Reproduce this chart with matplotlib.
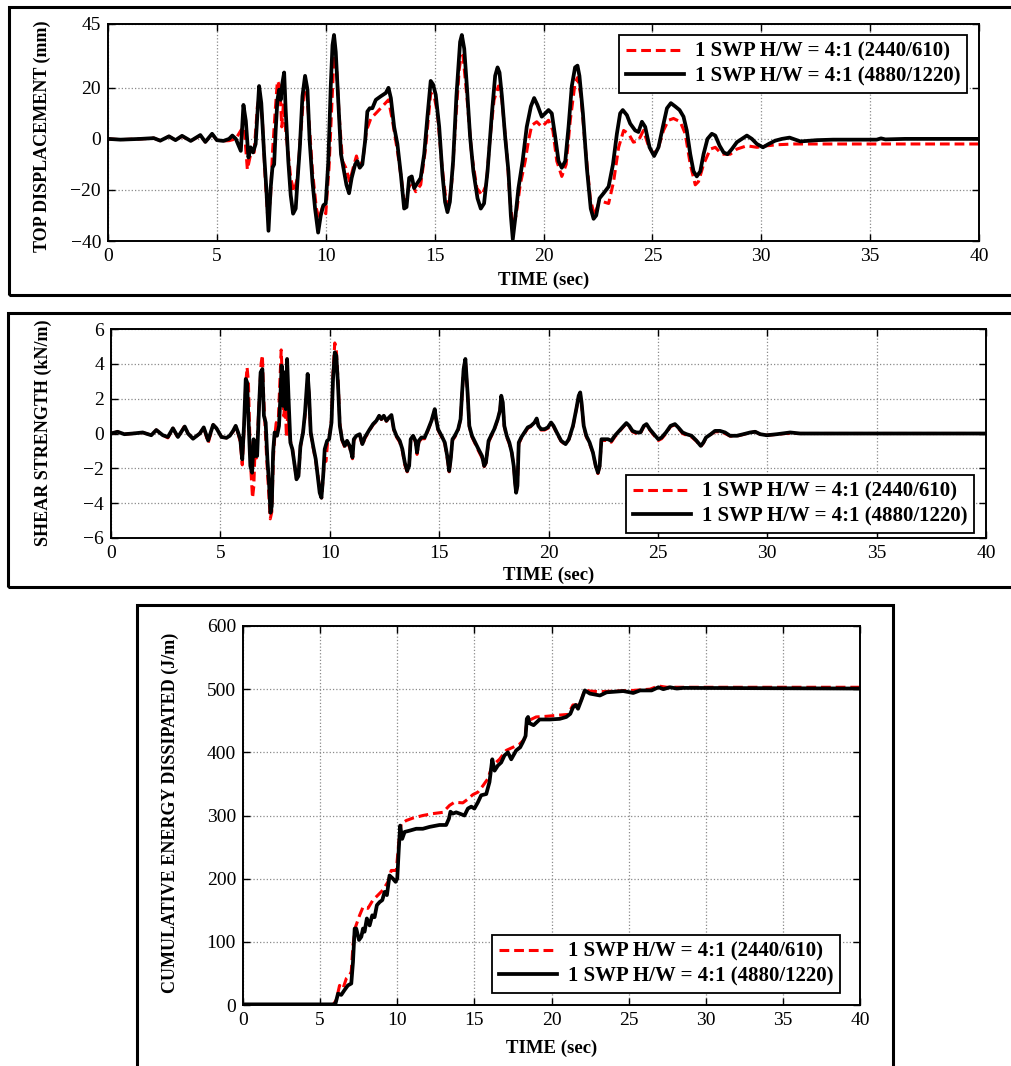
import matplotlib
matplotlib.use("Agg")
import matplotlib.pyplot as plt
from matplotlib.patches import Rectangle

# ---------------- DATA ----------------
# Panel 1: top displacement (mm)
disp_t_a = [0, 0.57, 1.5, 2.1, 2.4, 2.8, 3.1, 3.4, 3.8, 4.24, 4.47, 4.78, 5.0, 5.3, 5.56, 5.87,
            6.10, 6.25, 6.40, 6.55, 6.71, 6.86, 6.97, 7.09, 7.21, 7.34, 7.46, 7.55, 7.67, 7.78,
            7.89, 7.98, 8.06, 8.16, 8.28, 8.39, 8.54, 8.70, 8.85, 9.0, 9.11, 9.23, 9.39, 9.57,
            9.69, 9.85, 10.0, 10.15, 10.28, 10.38, 10.49, 10.61, 10.77, 10.92, 11.10, 11.26,
            11.41, 11.56, 11.72, 11.87, 12.07, 12.30, 12.60, 12.88, 13.06, 13.29, 13.49, 13.64,
            13.80, 13.95, 14.13, 14.36, 14.59, 14.82, 14.98, 15.13, 15.33, 15.51, 15.64, 15.79,
            15.97, 16.13, 16.2, 16.3, 16.48, 16.7, 16.94, 17.17, 17.37, 17.55, 17.73, 17.93,
            18.09, 18.32, 18.47, 18.59, 18.74, 18.93, 19.16, 19.31, 19.46, 19.69, 19.92, 20.08,
            20.23, 20.43, 20.61, 20.84, 21.04, 21.23, 21.45, 21.56, 21.72, 21.92, 22.15, 22.33,
            22.53, 22.76, 22.99, 23.22, 23.45, 23.68, 23.91, 24.13, 24.36, 24.59, 24.82, 25.05,
            25.28, 25.51, 25.74, 25.97, 26.28, 26.51, 26.74, 26.97, 27.12, 27.35, 27.66, 27.89,
            28.19, 28.58, 28.88, 29.34, 29.80, 30.26, 30.72, 31.5, 35.0, 40.0]
disp_v_a = [0, -0.3, 0, 0.3, -0.7, 1.0, -0.5, 1.0, -0.8, 1.3, -1.2, 1.8, -0.5, -0.8, -0.7, 0,
            3.3, 4.7, -12, -6, -5.3, 12.7, 17.3, 7.3, -14, -31.3, -23.3, -6, 10, 22.7,
            20.7, 4.7, 14, 3.3, -6, -15.3, -20.7, -15.3, 2, 18.7, 19.3, 7.3, -12.7, -27.3,
            -31.3, -26.7, -29.3, -11.3, 14, 32.7, 28.7, 10, -8.7, -11.3, -16.7, -11.3,
            -6.7, -11.3, -7.3, 3.3, 8, 10, 12.7, 15.3, 7.3, -4.7, -16.7, -27.3,
            -19.3, -16.7, -20.7, -18, -3.3, 18, 16.7, 10, -10, -23.3, -27.3, -16.7,
            7.3, 27.3, 31.3, 32.7, 16.7, -6, -19.3, -22, -18, 0.7, 15.3, 20.7,
            15.3, -6, -24.7, -34, -30, -18, -8.7, -0.7, 5.3, 6.7, 4.7, 6,
            7.3, 3.3, -8.7, -14.7, -10, 7.3, 22, 24, 16.7, -3.3, -23.3, -30,
            -25.3, -24.7, -25.3, -16.7, -3.3, 3.3, 2, -1.3, -0.7, 3.3, -2.7, -6,
            -3.3, 3.3, 7.3, 8, 6.7, 2, -10, -18, -16.7, -10, -4, -3.3,
            -6, -6, -4, -2.7, -3.3, -2.7, -2.3, -2, -2, -2]

disp_t_b = [0, 0.57, 1.5, 2.1, 2.4, 2.8, 3.1, 3.4, 3.8, 4.24, 4.47, 4.78, 5.0, 5.3, 5.56, 5.71,
            5.87, 6.10, 6.22, 6.33, 6.45, 6.55, 6.66, 6.78, 6.94, 7.04, 7.17, 7.27, 7.37, 7.47,
            7.55, 7.63, 7.70, 7.78, 7.86, 7.93, 8.01, 8.09, 8.16, 8.28, 8.39, 8.50, 8.62, 8.70,
            8.81, 8.93, 9.05, 9.16, 9.26, 9.39, 9.51, 9.65, 9.77, 9.89, 10.0, 10.12, 10.23,
            10.31, 10.38, 10.46, 10.58, 10.70, 10.84, 10.95, 11.07, 11.19, 11.35, 11.45, 11.56,
            11.68, 11.81, 11.91, 12.02, 12.14, 12.30, 12.53, 12.76, 12.88, 12.99, 13.14, 13.29,
            13.45, 13.60, 13.71, 13.83, 13.95, 14.06, 14.21, 14.36, 14.52, 14.67, 14.82, 14.93,
            15.05, 15.21, 15.36, 15.48, 15.59, 15.70, 15.85, 16.0, 16.13, 16.17, 16.25, 16.36,
            16.48, 16.63, 16.78, 16.97, 17.12, 17.27, 17.43, 17.63, 17.78, 17.89, 17.98, 18.09,
            18.24, 18.39, 18.50, 18.59, 18.70, 18.85, 19.04, 19.23, 19.42, 19.57, 19.72, 19.92,
            20.08, 20.23, 20.38, 20.54, 20.69, 20.84, 21.0, 21.15, 21.30, 21.45, 21.56, 21.65,
            21.81, 21.99, 22.17, 22.30, 22.42, 22.57, 22.76, 22.99, 23.19, 23.37, 23.52, 23.64,
            23.83, 23.98, 24.21, 24.36, 24.52, 24.67, 24.87, 25.08, 25.28, 25.48, 25.67, 25.85,
            26.05, 26.25, 26.43, 26.58, 26.74, 26.89, 27.04, 27.20, 27.35, 27.53, 27.73, 27.89,
            28.09, 28.27, 28.45, 28.65, 28.88, 29.11, 29.34, 29.57, 29.80, 30.08, 30.34, 30.64,
            30.95, 31.3, 31.8, 32.55, 33.3, 35.3, 35.5, 35.7, 36.6, 40.0]
disp_v_b = [0, -0.3, 0, 0.3, -0.7, 1.0, -0.5, 1.2, -0.8, 1.5, -1.2, 2.0, -0.5, -0.8, 0, 1.3,
            0, -4.7, 13.3, 7, -7.3, -3.3, -5.3, -2, 20.7, 14, -6, -19.3, -36, -19.3,
            -11.3, -10, 3.3, 15.3, 19.3, 15.3, 22, 26, 11.3, -8.7, -22, -29.3, -27.3, -16.7,
            -3.3, 16.7, 24.7, 19.3, -0.7, -16.7, -27.3, -36.7, -30, -26, -25.3, -8.7, 20.7,
            36.7, 40.7, 34, 14, -6, -12.7, -18, -21.3, -15.3, -10, -8.7, -11.3,
            -10, -0.7, 10.7, 12, 12, 15.3, 16.7, 18, 20, 16, 4.7, -2,
            -14, -27.3, -26.7, -15.3, -14.7, -19.3, -17.3, -15.3, -6, 8.7, 22.7, 21.3,
            17.3, 4.7, -14, -24.7, -28.7, -24.7, -8.7, 16.7, 32.7, 38, 40.7, 35.3,
            20.7, 0.7, -12.7, -23.3, -27.3, -25.3, -12.7, 10, 24.7, 28, 26, 16.7,
            0.7, -12.7, -30, -39.3, -31.3, -19.3, -8.7, 4.7, 12.7, 16, 13.3, 8.7,
            10, 11.3, 10, 0.7, -8.7, -11.3, -8.7, 4.7, 20.7, 28, 28.7, 24.7,
            10, -11.3, -27.3, -31.3, -30, -23.3, -21.3, -18.7, -10, 2, 10, 11.3,
            9.3, 6, 3.3, 2.7, 6.7, 4.7, -3.3, -6.7, -3.3, 4.7, 12, 14,
            12.7, 11.3, 8.7, 3.3, -6, -12.7, -14.7, -12.7, -6, 0, 2, 1.3,
            -2.7, -5.3, -6, -4, -1.3, 0, 1.3, 0, -2, -3.3, -2, -0.7,
            0, 0.5, -1.0, -0.5, -0.3, -0.3, 0.2, -0.2, 0, 0]

# Panel 2: shear strength (kN/m)
shear_t_a = [0, 0.3, 0.61, 1.0, 1.45, 1.84, 2.07, 2.37, 2.6, 2.83, 3.06, 3.37, 3.52, 3.75, 4.06,
             4.24, 4.44, 4.67, 4.82, 5.05, 5.28, 5.43, 5.58, 5.70, 5.81, 5.91, 6.0, 6.08, 6.16,
             6.22, 6.28, 6.33, 6.40, 6.47, 6.53, 6.58, 6.65, 6.72, 6.80, 6.86, 6.92, 6.98, 7.05,
             7.12, 7.20, 7.28, 7.35, 7.42, 7.48, 7.55, 7.65, 7.72, 7.78, 7.85, 7.90, 7.96, 8.02,
             8.08, 8.14, 8.20, 8.30, 8.40, 8.48, 8.57, 8.66, 8.78, 8.87, 8.93, 8.99, 9.05, 9.13,
             9.24, 9.36, 9.47, 9.55, 9.63, 9.70, 9.76, 9.83, 9.90, 9.97, 10.08, 10.15, 10.23,
             10.30, 10.38, 10.46, 10.56, 10.69, 10.79, 10.91, 11.04, 11.10, 11.22, 11.37, 11.49,
             11.60, 11.83, 11.98, 12.13, 12.26, 12.36, 12.47, 12.59, 12.71, 12.82, 12.93, 13.05,
             13.20, 13.32, 13.43, 13.54, 13.63, 13.70, 13.81, 13.92, 13.99, 14.07, 14.19, 14.34,
             14.50, 14.65, 14.80, 14.85, 14.95, 15.11, 15.26, 15.37, 15.46, 15.53, 15.61, 15.72,
             15.87, 15.98, 16.05, 16.12, 16.20, 16.30, 16.38, 16.50, 16.65, 16.80, 16.96, 17.06,
             17.14, 17.26, 17.37, 17.52, 17.68, 17.78, 17.84, 17.91, 17.98, 18.09, 18.21, 18.32,
             18.41, 18.47, 18.52, 18.58, 18.64, 18.75, 18.90, 19.05, 19.20, 19.36, 19.46, 19.54,
             19.66, 19.82, 19.97, 20.12, 20.23, 20.38, 20.58, 20.78, 20.93, 21.12, 21.27, 21.38,
             21.45, 21.51, 21.61, 21.73, 21.88, 22.03, 22.16, 22.26, 22.34, 22.42, 22.52, 22.72,
             22.87, 23.03, 23.23, 23.44, 23.56, 23.69, 23.84, 24.02, 24.20, 24.36, 24.48, 24.63,
             24.82, 25.02, 25.17, 25.37, 25.58, 25.78, 25.93, 26.13, 26.31, 26.54, 26.77, 26.96,
             27.08, 27.20, 27.42, 27.61, 27.84, 28.07, 28.30, 28.61, 28.91, 29.22, 29.45, 29.68,
             29.98, 30.44, 30.83, 31.05, 31.5, 40.0]
shear_v_a = [0, 0.1, -0.04, 0, 0.06, -0.1, 0.2, -0.1, -0.25, 0.3, -0.25, 0.45, 0, -0.3, 0,
             0.35, -0.55, 0.5, 0.3, -0.2, -0.25, -0.1, 0.1, 0.4, 0.0, -0.5, -1.8, 0.2, 2.8,
             3.8, 3.0, 0.5, -2.2, -3.7, -3.0, -1.0, -1.5, 0.5, 2.5, 4.0, 4.5, 2.0, 0.3,
             -1.5, -3.2, -4.9, -4.5, -1.5, -0.3, 0.6, 0.8, 3.0, 4.8, 2.5, 1.0, 2.0, -0.2,
             1.2, 0.5, -0.4, -0.9, -1.9, -2.6, -2.4, -0.8, 0.1, 1.0, 2.2, 3.3, 2.2, 0.0,
             -0.8, -1.6, -2.5, -3.3, -3.7, -2.5, -1.5, -1.6, -0.5, -0.3, 0.8, 3.5, 5.2,
             4.8, 3.0, 0.6, -0.4, -0.8, -0.5, -0.8, -1.45, -0.4, -0.2, -0.1, -0.7,
             -0.3, 0.2, 0.5, 0.7, 1.0, 0.8, 1.0, 0.7, 0.9, 1.0, 0.2, -0.2,
             -0.5, -1.0, -1.8, -2.2, -1.9, -0.4, -0.2, -0.5, -1.2, -0.5, -0.3, -0.3,
             0.2, 0.7, 1.35, 0.9, 0.2, -0.2, -0.6, -1.4, -2.2, -1.5, -0.4, -0.2,
             0.2, 0.8, 2.3, 3.7, 4.2, 2.3, 0.4, -0.2, -0.6, -1.0, -1.4, -1.9,
             -1.7, -0.5, -0.2, 0.2, 0.8, 1.3, 2.1, 1.7, 0.4, -0.2, -0.6, -1.1,
             -1.9, -2.8, -3.4, -3.0, -0.6, -0.3, 0.0, 0.3, 0.4, 0.6, 0.8, 0.4,
             0.2, 0.2, 0.3, 0.6, 0.4, 0.0, -0.45, -0.65, -0.35, 0.4, 1.4, 2.1,
             2.3, 1.7, 0.4, -0.2, -0.6, -1.1, -1.9, -2.3, -1.9, -0.4, -0.4, -0.4,
             -0.5, -0.2, 0.1, 0.4, 0.55, 0.4, 0.1, 0.0, 0.0, 0.4, 0.5, 0.2,
             -0.1, -0.4, -0.3, 0.0, 0.4, 0.5, 0.3, 0.0, -0.1, -0.2, -0.45, -0.75,
             -0.55, -0.25, -0.05, 0.1, 0.1, 0.0, -0.15, -0.15, -0.05, 0.05, 0.1, -0.05,
             -0.1, -0.05, 0.0, 0.0, 0.0, 0.0]

shear_t_b = [0, 0.3, 0.61, 1.0, 1.45, 1.84, 2.07, 2.37, 2.6, 2.83, 3.06, 3.37, 3.52, 3.75, 4.06,
             4.24, 4.44, 4.67, 4.82, 5.05, 5.28, 5.43, 5.58, 5.70, 5.81, 5.91, 6.0, 6.08, 6.16,
             6.22, 6.30, 6.37, 6.45, 6.52, 6.6, 6.68, 6.77, 6.84, 6.92, 6.99, 7.07, 7.15, 7.23,
             7.29, 7.35, 7.41, 7.48, 7.59, 7.68, 7.74, 7.80, 7.87, 7.93, 7.99, 8.05, 8.13, 8.20,
             8.29, 8.40, 8.48, 8.57, 8.66, 8.78, 8.87, 8.93, 8.99, 9.05, 9.13, 9.24, 9.36, 9.47,
             9.54, 9.62, 9.70, 9.77, 9.88, 9.97, 10.08, 10.15, 10.23, 10.30, 10.38, 10.46, 10.56,
             10.69, 10.79, 10.91, 11.04, 11.10, 11.22, 11.37, 11.49, 11.60, 11.83, 11.98, 12.13,
             12.26, 12.36, 12.47, 12.59, 12.71, 12.82, 12.93, 13.05, 13.20, 13.32, 13.43, 13.54,
             13.63, 13.70, 13.81, 13.92, 13.99, 14.07, 14.19, 14.34, 14.50, 14.65, 14.80, 14.85,
             14.95, 15.11, 15.26, 15.37, 15.46, 15.53, 15.61, 15.72, 15.87, 15.98, 16.05, 16.12,
             16.20, 16.30, 16.38, 16.50, 16.65, 16.80, 16.96, 17.06, 17.14, 17.26, 17.37, 17.52,
             17.68, 17.78, 17.84, 17.91, 17.98, 18.09, 18.21, 18.32, 18.41, 18.47, 18.52, 18.58,
             18.64, 18.75, 18.90, 19.05, 19.20, 19.36, 19.46, 19.54, 19.66, 19.82, 19.97, 20.12,
             20.23, 20.38, 20.58, 20.78, 20.93, 21.12, 21.27, 21.38, 21.45, 21.51, 21.61, 21.73,
             21.88, 22.03, 22.16, 22.26, 22.34, 22.42, 22.52, 22.72, 22.87, 23.03, 23.23, 23.44,
             23.56, 23.69, 23.84, 24.02, 24.20, 24.36, 24.48, 24.63, 24.82, 25.02, 25.17, 25.37,
             25.58, 25.78, 25.93, 26.13, 26.31, 26.54, 26.77, 26.96, 27.08, 27.20, 27.42, 27.61,
             27.84, 28.07, 28.30, 28.61, 28.91, 29.22, 29.45, 29.68, 29.98, 30.44, 30.83, 31.05,
             31.5, 40.0]
shear_v_b = [0, 0.1, -0.04, 0, 0.06, -0.1, 0.2, -0.1, -0.2, 0.3, -0.2, 0.4, 0, -0.3, 0,
             0.35, -0.4, 0.5, 0.3, -0.2, -0.25, -0.13, 0.15, 0.44, 0.06, -0.33, -1.48, 0.44, 3.13,
             2.94, 0.44, -1.86, -2.25, -0.33, -1.29, -1.29, 1.59, 3.51, 3.7, 1.02, 0.63, -1.48, -3.0,
             -4.55, -4.17, -1.09, 0.06, -0.13, 0.44, 1.98, 3.9, 1.59, 3.51, 1.4, 4.28, 1.59, -0.52,
             -0.9, -1.86, -2.63, -2.44, -0.71, 0.06, 1.21, 2.36, 3.42, 2.36, 0.06, -0.71, -1.48, -2.63,
             -3.4, -3.69, -2.44, -0.9, -0.42, -0.33, 0.63, 3.13, 4.66, 4.47, 2.74, 0.44, -0.33,
             -0.71, -0.42, -0.71, -1.38, -0.33, -0.13, -0.04, -0.61, -0.23, 0.25, 0.54, 0.73,
             1.02, 0.83, 1.02, 0.73, 0.92, 1.06, 0.25, -0.13, -0.42, -0.9, -1.67, -2.15,
             -1.86, -0.33, -0.13, -0.42, -1.09, -0.42, -0.23, -0.23, 0.25, 0.73, 1.4, 0.92,
             0.25, -0.13, -0.52, -1.29, -2.15, -1.48, -0.33, -0.13, 0.25, 0.83, 2.36, 3.7,
             4.28, 2.36, 0.44, -0.13, -0.52, -0.9, -1.29, -1.86, -1.67, -0.42, -0.13, 0.25,
             0.83, 1.31, 2.17, 1.79, 0.44, -0.13, -0.52, -1.09, -1.86, -2.82, -3.4, -3.0,
             -0.52, -0.23, 0.06, 0.35, 0.44, 0.63, 0.86, 0.44, 0.25, 0.25, 0.35, 0.63,
             0.44, 0.06, -0.42, -0.61, -0.33, 0.44, 1.4, 2.17, 2.36, 1.79, 0.44, -0.13,
             -0.52, -1.09, -1.86, -2.25, -1.86, -0.33, -0.33, -0.33, -0.42, -0.13, 0.15, 0.44,
             0.6, 0.44, 0.15, 0.06, 0.06, 0.44, 0.54, 0.25, -0.04, -0.33, -0.23, 0.06,
             0.44, 0.54, 0.35, 0.06, -0.04, -0.13, -0.42, -0.71, -0.52, -0.23, -0.04, 0.15,
             0.15, 0.06, -0.13, -0.13, -0.04, 0.06, 0.1, -0.04, -0.1, -0.04, 0.02, 0.06,
             0.0, 0.0]

# Panel 3: cumulative energy dissipated (J/m)
energy_t_a = [0, 3.0, 5.8, 6.05, 6.26, 6.48, 6.7, 6.91, 7.02, 7.13, 7.3, 7.56, 7.78, 8.1, 8.42,
              8.75, 9.07, 9.4, 9.61, 9.94, 10.1, 10.26, 10.58, 11.02, 11.66, 12.31, 12.96, 13.39,
              13.71, 14.25, 14.58, 14.9, 15.23, 15.55, 15.87, 16.09, 16.31, 16.63, 17.06, 17.5,
              17.93, 18.25, 18.4, 18.58, 19.0, 19.66, 20.53, 21.07, 21.39, 21.72, 21.94, 22.15,
              22.48, 23.14, 24.11, 25.3, 26.39, 26.93, 27.47, 40.0]
energy_v_a = [-1, -1, -1, 8, 31, 26, 42, 47, 53, 95, 124, 142, 155, 153, 166,
              174, 182, 195, 213, 213, 258, 287, 292, 296, 300, 303, 305, 316,
              321, 320, 326, 333, 337, 347, 358, 374, 382, 389, 403, 408,
              413, 421, 447, 451, 456, 457, 459, 460, 475, 475, 483, 499,
              497, 496, 497, 498, 500, 505, 503, 503]

energy_t_b = [0, 3.0, 5.9, 6.0, 6.16, 6.37, 6.59, 6.8, 7.02, 7.13, 7.24, 7.34, 7.52, 7.67, 7.78,
              7.88, 8.03, 8.21, 8.38, 8.53, 8.68, 8.86, 9.03, 9.18, 9.33, 9.50, 9.72, 9.89, 10.0,
              10.1, 10.19, 10.32, 10.48, 10.8, 11.23, 11.66, 12.1, 12.74, 13.17, 13.35, 13.45,
              13.6, 13.82, 14.04, 14.36, 14.58, 14.8, 15.0, 15.23, 15.44, 15.77, 15.98, 16.16,
              16.31, 16.52, 16.74, 16.95, 17.17, 17.39, 17.71, 17.97, 18.14, 18.32, 18.4, 18.48,
              18.58, 18.84, 19.23, 19.88, 20.53, 20.96, 21.22, 21.39, 21.57, 21.72, 21.94, 22.16,
              22.49, 23.14, 23.57, 24.11, 24.65, 25.3, 25.74, 26.49, 26.93, 27.25, 27.68, 28.12,
              28.55, 40.0]
energy_v_b = [1, 1, 1, 2.6, 18, 16, 24, 31, 34, 68, 121, 121, 103, 108, 121,
              116, 137, 126, 142, 139, 158, 163, 166, 179, 174, 205, 200, 195, 200,
              247, 284, 263, 274, 276, 279, 279, 282, 285, 285, 295, 306,
              303, 305, 303, 300, 311, 314, 311, 321, 332, 334, 353, 389,
              371, 379, 384, 395, 400, 389, 403, 408, 416, 426, 453, 456,
              446, 443, 452, 452, 453, 456, 461, 471, 475, 469, 483, 498,
              493, 490, 495, 496, 497, 494, 498, 498, 503, 500, 503, 501,
              502, 501]

series_labels = ["1 SWP H/W = 4:1 (2440/610)", "1 SWP H/W = 4:1 (4880/1220)"]
x_ticks = [0, 5, 10, 15, 20, 25, 30, 35, 40]
disp_ticks = [-40, -20, 0, 20, 45]
shear_ticks = [-6, -4, -2, 0, 2, 4, 6]
energy_ticks = [0, 100, 200, 300, 400, 500, 600]

# ---------------- STYLE ----------------
W, H = 1011, 1066
plt.rcParams['font.family'] = ['Liberation Serif', 'DejaVu Serif']
fig = plt.figure(figsize=(W / 100, H / 100), dpi=100)


def ax_at(l, t, r, b):
    return fig.add_axes([l / W, 1 - b / H, (r - l) / W, (b - t) / H])


def box(l, t, r, b):
    fig.patches.append(Rectangle((l / W, 1 - b / H), (r - l) / W, (b - t) / H,
                                 transform=fig.transFigure, fill=False,
                                 edgecolor='black', linewidth=2.2))


RED = dict(color='#ff0000', linestyle=(0, (3.2, 1.6)), linewidth=2.2)
BLK = dict(color='black', linestyle='-', linewidth=2.7)


def style(ax, ylim, yticks, ylabel, yl_x, yl_y, xl_y):
    ax.set_xlim(0, 40)
    ax.set_ylim(*ylim)
    ax.set_xticks(x_ticks)
    ax.set_yticks(yticks)
    ax.grid(True, color='#8a8a8a', linestyle=':', linewidth=0.9)
    ax.tick_params(direction='in', length=5, width=1, top=True, right=True,
                   labelsize=14, pad=5)
    for s in ax.spines.values():
        s.set_linewidth(1.4)
    ax.set_xlabel('TIME (sec)', fontsize=13.5, fontweight='bold')
    ax.xaxis.label.set_va('center')
    ax.xaxis.set_label_coords(0.5, xl_y)
    ax.set_ylabel(ylabel, fontsize=13, fontweight='bold')
    ax.yaxis.label.set_va('center')
    ax.yaxis.set_label_coords(yl_x, yl_y)


def legend(ax, l, t):
    lg = ax.legend(series_labels, loc='upper left', bbox_to_anchor=(l / W, 1 - t / H),
                   bbox_transform=fig.transFigure, borderaxespad=0, fancybox=False,
                   framealpha=1, edgecolor='black', handlelength=2.8, handletextpad=0.5,
                   labelspacing=0.22, borderpad=0.33,
                   prop=dict(family='Liberation Serif', weight='bold', size=15))
    lg.get_frame().set_linewidth(1.3)


# Boxes
box(9, 7, 1020, 295)
box(8, 313, 1020, 587)
box(137, 605, 893, 1075)

# Panel 1
ax1 = ax_at(108, 24, 979, 241)
ax1.plot(disp_t_a, disp_v_a, **RED)
ax1.plot(disp_t_b, disp_v_b, **BLK)
style(ax1, (-40, 45), disp_ticks, 'TOP DISPLACEMENT (mm)',
      (42 - 108) / 871, (241 - 136.5) / 217, (241 - 280) / 217)
legend(ax1, 619, 35)

# Panel 2
ax2 = ax_at(111, 329, 986, 538)
ax2.plot(shear_t_a, shear_v_a, **RED)
ax2.plot(shear_t_b, shear_v_b, **BLK)
style(ax2, (-6, 6), shear_ticks, 'SHEAR STRENGTH (kN/m)',
      (43 - 111) / 875, (538 - 433) / 209, (538 - 575.7) / 209)
legend(ax2, 626, 475)

# Panel 3
ax3 = ax_at(243, 626, 860, 1005)
ax3.plot(energy_t_a, energy_v_a, **RED)
ax3.plot(energy_t_b, energy_v_b, **BLK)
style(ax3, (0, 600), energy_ticks, 'CUMULATIVE ENERGY DISSIPATED (J/m)',
      (170 - 243) / 617, (1005 - 812.5) / 379, (1005 - 1048) / 379)
legend(ax3, 492, 935)

fig.savefig('out.png', dpi=100)
